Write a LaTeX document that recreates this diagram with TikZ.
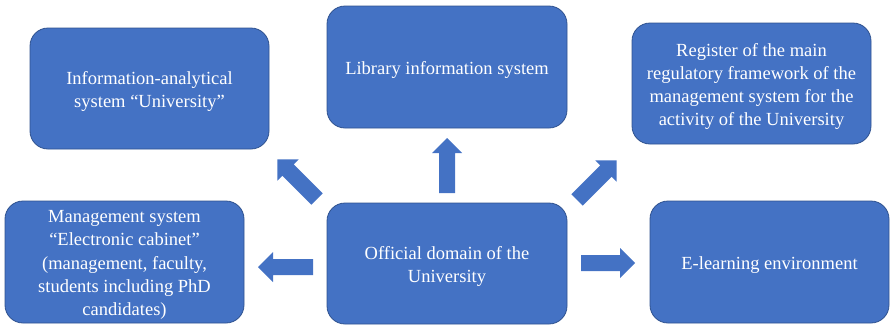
\documentclass[tikz,border=0pt]{standalone}
\usepackage{fontspec}
\setmainfont{Liberation Serif}
\definecolor{boxfill}{HTML}{4472C4}
\definecolor{boxline}{HTML}{2F528F}
\tikzset{
  ubox/.style={rectangle, rounded corners=18pt, fill=boxfill, draw=boxline, line width=0.8pt,
    inner sep=0pt},
  utext/.style={text=white, align=center, inner sep=0pt,
    font=\fontsize{18.5}{23.3}\selectfont},
  pics/barrow/.style={code={
    \fill[boxfill] (0,-8) -- (#1-15,-8) -- (#1-15,-15) -- (#1,0) -- (#1-15,15) -- (#1-15,8) -- (0,8) -- cycle;
  }}
}
\begin{document}
\begin{tikzpicture}[x=1pt,y=-1pt]
\useasboundingbox (0,0) rectangle (890,327);
\node[ubox, minimum width=239pt, minimum height=121pt] (ias) at (149.5,88.5) {};
\node[utext] (iast) at ([yshift=-3pt]ias.center)
  {Information-analytical\\system “University”};
\node[ubox, minimum width=240pt, minimum height=122pt] (lib) at (447,67) {};
\node[utext] (libt) at ([yshift=-3pt]lib.center)
  {Library information system};
\node[ubox, minimum width=239pt, minimum height=121pt] (reg) at (751.5,83.5) {};
\node[utext] (regt) at ([yshift=-3pt]reg.center)
  {Register of the main\\regulatory framework of the\\management system for the\\activity of the University};
\node[ubox, minimum width=239pt, minimum height=122pt] (mgmt) at (124.5,262) {};
\node[utext] (mgmtt) at ([yshift=-3pt]mgmt.center)
  {Management system\\“Electronic cabinet”\\(management, faculty,\\students including PhD\\candidates)};
\node[ubox, minimum width=240pt, minimum height=121pt] (dom) at (447,263.5) {};
\node[utext] (domt) at ([yshift=-3pt]dom.center)
  {Official domain of the\\University};
\node[ubox, minimum width=239pt, minimum height=122pt] (elr) at (769.5,262) {};
\node[utext] (elrt) at ([yshift=-3pt]elr.center)
  {E-learning environment};
% block arrows
\pic[rotate=90] at (447,193) {barrow=55};
\pic[rotate=180] at (313,267) {barrow=55};
\pic[rotate=0] at (581,263) {barrow=54};
\pic[rotate=135] at (317,199) {barrow=56};
\pic[rotate=45] at (577,200) {barrow=56};
\end{tikzpicture}
\end{document}
